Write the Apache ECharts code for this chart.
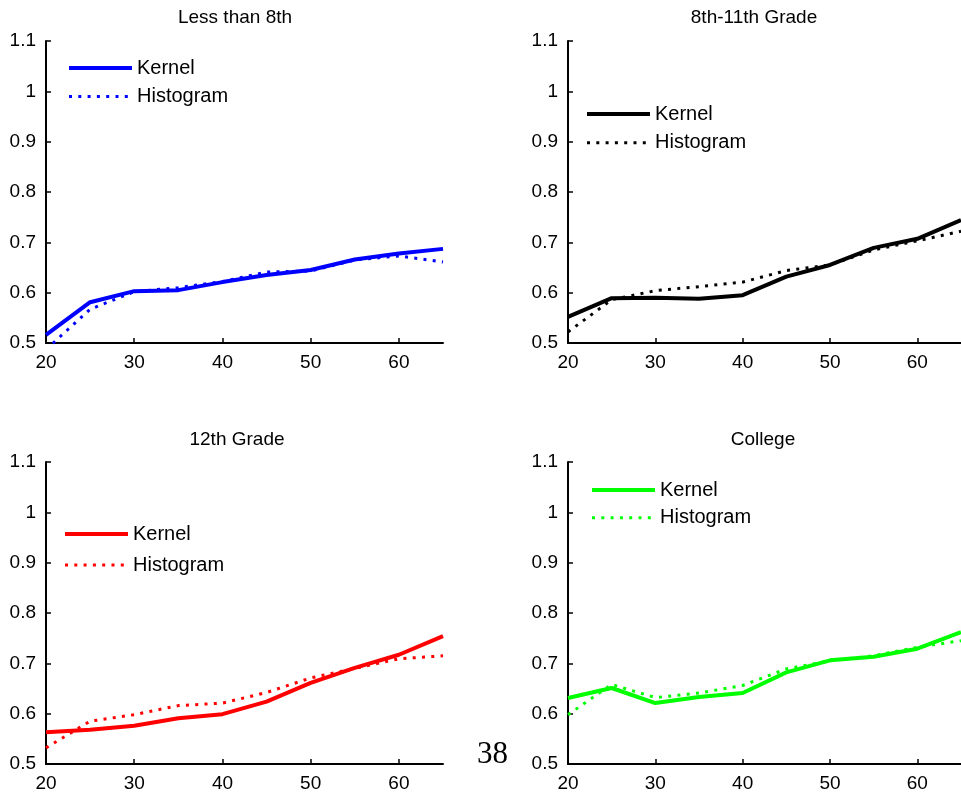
<!DOCTYPE html>
<html>
<head>
<meta charset="utf-8">
<script src="https://cdn.jsdelivr.net/npm/echarts@6/dist/echarts.min.js"></script>
<style>html,body{margin:0;padding:0;background:#fff}#c{width:961px;height:797px}</style>
</head>
<body>
<div id="c"></div>
<script>
// ---- data ----
const ages = [20, 25, 30, 35, 40, 45, 50, 55, 60, 65];
const xTicks = [20, 30, 40, 50, 60];
const panelTitles = ['Less than 8th', '8th-11th Grade', '12th Grade', 'College'];
const lessKernel = [0.516, 0.581, 0.603, 0.605, 0.621, 0.635, 0.645, 0.666, 0.678, 0.687];
const lessHist   = [0.487, 0.567, 0.602, 0.610, 0.622, 0.641, 0.643, 0.665, 0.673, 0.661];
const someKernel = [0.552, 0.589, 0.590, 0.588, 0.595, 0.632, 0.655, 0.689, 0.707, 0.744];
const someHist   = [0.522, 0.586, 0.604, 0.612, 0.621, 0.644, 0.655, 0.685, 0.703, 0.722];
const hsKernel   = [0.563, 0.568, 0.576, 0.591, 0.599, 0.624, 0.661, 0.691, 0.717, 0.754];
const hsHist     = [0.532, 0.585, 0.598, 0.616, 0.621, 0.642, 0.671, 0.690, 0.709, 0.715];
const colKernel  = [0.631, 0.651, 0.621, 0.633, 0.641, 0.682, 0.706, 0.713, 0.729, 0.762];
const colHist    = [0.598, 0.658, 0.632, 0.641, 0.656, 0.689, 0.705, 0.715, 0.732, 0.745];
const pageNumber = '38';

// ---- layout / style ----
const FONT = '"Liberation Sans", Arial, Helvetica, sans-serif';
const colors = ['#0000ff', '#000000', '#ff0000', '#00ff00'];
const kernels = [lessKernel, someKernel, hsKernel, colKernel];
const hists = [lessHist, someHist, hsHist, colHist];
const grids = [
  {left: 46, top: 41, width: 397, height: 302},
  {left: 568, top: 41, width: 395, height: 302},
  {left: 46, top: 462, width: 397, height: 302},
  {left: 568, top: 462, width: 395, height: 302}
];
const legendPos = [
  {left: 67, top: 58, gap: 8.5},
  {left: 585, top: 104, gap: 8.7},
  {left: 63, top: 524, gap: 11},
  {left: 590, top: 480, gap: 7.7}
];
const titlePos = [[235, 18], [754, 18], [237, 440], [763, 440]];

const xAxes = [], yAxes = [], series = [], legends = [], graphics = [];
for (let i = 0; i < 4; i++) {
  xAxes.push({
    type: 'value', gridIndex: i, min: 20, max: 65, interval: 10,
    axisLine: {show: true, onZero: false, lineStyle: {color: '#000', width: 2}},
    axisTick: {show: true, inside: true, length: 5, lineStyle: {color: '#000', width: 1.5}, customValues: xTicks},
    axisLabel: {color: '#000', fontSize: 19, fontFamily: FONT, margin: 10, customValues: xTicks},
    splitLine: {show: false}
  });
  yAxes.push({
    type: 'value', gridIndex: i, min: 0.5, max: 1.1, interval: 0.1,
    axisLine: {show: true, onZero: false, lineStyle: {color: '#000', width: 2}},
    axisTick: {show: true, inside: true, length: 5, lineStyle: {color: '#000', width: 1.5}},
    axisLabel: {color: '#000', fontSize: 19, fontFamily: FONT, margin: 10,
      formatter: v => String(+v.toFixed(1))},
    splitLine: {show: false}
  });
  const kName = 'Kernel|' + i, hName = 'Histogram|' + i;
  series.push({
    name: kName, type: 'line', xAxisIndex: i, yAxisIndex: i, symbol: 'none',
    color: colors[i],
    lineStyle: {color: colors[i], width: 4, type: 'solid'},
    data: ages.map((a, j) => [a, kernels[i][j]])
  });
  series.push({
    name: hName, type: 'line', xAxisIndex: i, yAxisIndex: i, symbol: 'none',
    color: colors[i],
    lineStyle: {color: colors[i], width: 3, type: [3, 6.3]},
    data: ages.map((a, j) => [a, hists[i][j]])
  });
  legends.push({
    data: [kName, hName], orient: 'vertical',
    left: legendPos[i].left, top: legendPos[i].top,
    itemWidth: 63, itemHeight: 20, itemGap: legendPos[i].gap, padding: 0,
    lineStyle: {width: 'inherit'},
    itemStyle: {opacity: 0, color: 'rgba(0,0,0,0)', borderWidth: 0},
    selectedMode: false,
    formatter: n => n.split('|')[0],
    textStyle: {color: '#000', fontSize: 20, fontFamily: FONT}
  });
  graphics.push({
    type: 'text', x: titlePos[i][0], y: titlePos[i][1],
    style: {text: panelTitles[i], fill: '#000', font: '19px ' + FONT, align: 'center', verticalAlign: 'middle'}
  });
}
graphics.push({
  type: 'text', x: 492.5, y: 755,
  style: {text: pageNumber, fill: '#000', font: '31px "Liberation Serif", "DejaVu Serif", serif', align: 'center', verticalAlign: 'middle'}
});

const chart = echarts.init(document.getElementById('c'), null, {renderer: 'canvas'});
chart.setOption({
  animation: false,
  backgroundColor: '#fff',
  grid: grids,
  xAxis: xAxes,
  yAxis: yAxes,
  legend: legends,
  series: series,
  graphic: graphics
});
</script>
</body>
</html>
